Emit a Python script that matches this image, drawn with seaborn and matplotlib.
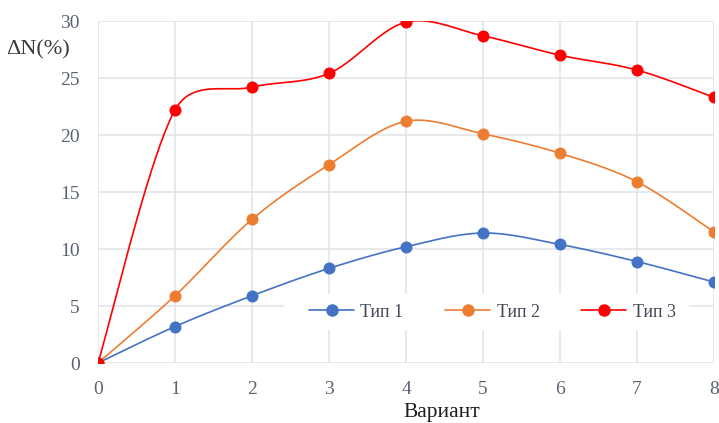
import numpy as np
import pandas as pd
import matplotlib
matplotlib.use("Agg")
import matplotlib.pyplot as plt
from matplotlib.patches import Rectangle
from matplotlib.lines import Line2D
import seaborn as sns

# Data
variants = [0, 1, 2, 3, 4, 5, 6, 7, 8]
tip1 = [0, 3.2, 5.9, 8.3, 10.2, 11.4, 10.4, 8.9, 7.1]
tip2 = [0, 5.9, 12.6, 17.4, 21.2, 20.1, 18.4, 15.9, 11.5]
tip3 = [0, 22.2, 24.2, 25.4, 29.9, 28.7, 27.0, 25.7, 23.3]
series_names = ["Тип 1", "Тип 2", "Тип 3"]
series_values = [tip1, tip2, tip3]
colors = ["#4472C4", "#ED7D31", "#FF0000"]
x_ticks = [0, 1, 2, 3, 4, 5, 6, 7, 8]
y_ticks = [0, 5, 10, 15, 20, 25, 30]


def smooth_curve(x, y, sx=77.0, sy=11.4, steps=40):
    """Bezier smoothing through every point. Control arms follow the
    Catmull-Rom tangent; an arm is shortened when its segment is much
    shorter on screen than the neighbouring one (sx, sy: pixels per unit)."""
    pts = np.column_stack([np.asarray(x, float) * sx, np.asarray(y, float) * sy])
    n = len(pts)

    def arm_scale(d_this, d_other):
        if d_this + d_other == 0:
            return 1.0
        return min(1.0, np.sqrt(2.0 * d_this / (d_this + d_other)))

    out = []
    for i in range(n - 1):
        p0 = pts[max(i - 1, 0)]
        p1 = pts[i]
        p2 = pts[i + 1]
        p3 = pts[min(i + 2, n - 1)]
        d01 = np.hypot(*(p1 - p0))
        d12 = np.hypot(*(p2 - p1))
        d23 = np.hypot(*(p3 - p2))
        c1 = p1 + (p2 - p0) / 6.0 * (arm_scale(d12, d01) if d01 > 0 else 1.0)
        c2 = p2 - (p3 - p1) / 6.0 * (arm_scale(d12, d23) if d23 > 0 else 1.0)
        t = np.linspace(0, 1, steps, endpoint=(i == n - 2))[:, None]
        seg = ((1 - t) ** 3) * p1 + 3 * ((1 - t) ** 2) * t * c1 + 3 * (1 - t) * t ** 2 * c2 + t ** 3 * p2
        out.append(seg)
    seg = np.vstack(out)
    return seg[:, 0] / sx, seg[:, 1] / sy


sns.set_theme(style="white")
plt.rcParams["font.family"] = ["Liberation Serif", "DejaVu Serif"]

fig = plt.figure(figsize=(7.19, 4.23), dpi=100)
ax = fig.add_axes([98 / 719, 1 - 363 / 423, 616 / 719, 342 / 423])

tick_color = "#5A6273"
grid_color = "#E1E5EB"

# Lines and markers
for name, vals, col in zip(series_names, series_values, colors):
    cx, cy = smooth_curve(variants, vals)
    curve = pd.DataFrame({"x": cx, "y": cy})
    sns.lineplot(data=curve, x="x", y="y", ax=ax, color=col, linewidth=1.2,
                 sort=False, estimator=None, zorder=3)
    pts = pd.DataFrame({"x": variants, "y": vals})
    sns.scatterplot(data=pts, x="x", y="y", ax=ax, color=col, s=75,
                    edgecolor=col, linewidth=0, zorder=4)

ax.set_xlim(0, 8)
ax.set_ylim(0, 30)
ax.set_xticks(x_ticks)
ax.set_yticks(y_ticks)
ax.set_xlabel("")
ax.set_ylabel("")
ax.grid(True, color=grid_color, linewidth=1.2, zorder=0)
ax.set_axisbelow(True)
for s in ax.spines.values():
    s.set_visible(False)
ax.tick_params(axis="both", length=0, labelsize=14, colors=tick_color)
ax.tick_params(axis="x", pad=13)
ax.tick_params(axis="y", pad=13)
for lbl in ax.get_xticklabels() + ax.get_yticklabels():
    lbl.set_clip_on(False)

# Legend with its white backing box
ax.add_patch(Rectangle((0.302, 0.0965), 0.657, 0.105, transform=ax.transAxes,
                       facecolor="white", edgecolor="none", zorder=2))
handles = [Line2D([0], [0], color=c, linewidth=1.2, marker="o", markersize=8)
           for c in colors]
leg = ax.legend(handles, series_names, loc="center", bbox_to_anchor=(0.64, 0.149),
                ncol=3, frameon=False, fontsize=13, handlelength=2.5,
                handletextpad=0.35, columnspacing=2.3, labelcolor="#44495A")
leg.set_zorder(5)

fig.text(38 / 719, 1 - 50 / 423, "ΔN(%)", fontsize=16, color="#3A3A3A",
         ha="center", va="center")
fig.text(442 / 719, 1 - 417 / 423, "Вариант", fontsize=15.5, color="#1E1E1E",
         ha="center", va="baseline")

fig.savefig("out.png", dpi=100)
